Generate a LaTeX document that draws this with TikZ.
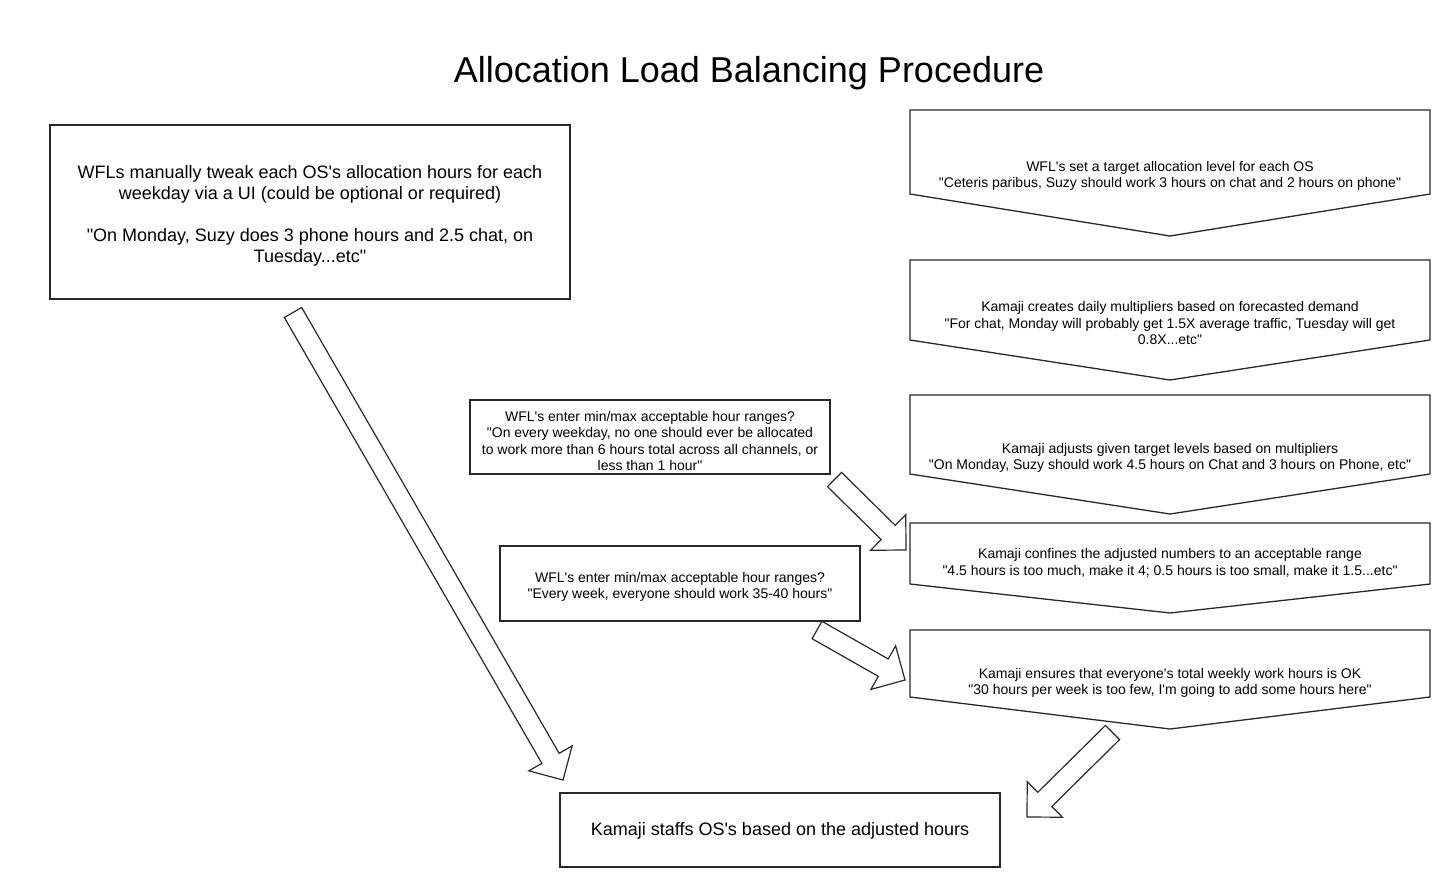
\documentclass[tikz,border=0pt]{standalone}
\usepackage{fontspec}
\setmainfont{Liberation Sans}[Ligatures=TeXOff]
\usetikzlibrary{calc}
\definecolor{lc}{RGB}{40,40,40}
\tikzset{
  shp/.style={draw=lc, line width=1.3pt, line join=miter, fill=white},
  blk/.style={draw=lc, line width=1.2pt, line join=miter, fill=white},
  small/.style={align=center, font=\fontsize{14}{16.4}\selectfont, inner sep=0pt, yshift=-2pt},
  big/.style={align=center, font=\fontsize{18}{21}\selectfont, inner sep=0pt, yshift=-3pt},
}
\newcommand{\blockarrow}[2]{%
  \coordinate (#1h) at ($(#2)!25pt!(#1)$);
  \draw[blk] ($(#1)!10pt!90:(#2)$) -- ($(#1h)!10pt!-90:(#1)$) -- ($(#1h)!25pt!-90:(#1)$)
    -- (#2) -- ($(#1h)!25pt!90:(#1)$) -- ($(#1h)!10pt!90:(#1)$) -- ($(#1)!10pt!-90:(#2)$) -- cycle;
}
\begin{document}
\begin{tikzpicture}[x=1pt,y=-1pt]
\useasboundingbox[fill=white] (0,0) rectangle (1450,887);

% title
\node[font=\fontsize{36}{40}\selectfont, inner sep=0pt] (title) at (749,73) {Allocation Load Balancing Procedure};

% left boxes
\draw[shp] (50,125) rectangle (570,299);
\node[big] (manual) at (310,213) {WFLs manually tweak each OS's allocation hours for each\\weekday via a UI (could be optional or required)\\[21pt]"On Monday, Suzy does 3 phone hours and 2.5 chat, on\\Tuesday...etc"};

\draw[shp] (470,400) rectangle (830,474);
\node[small] (range1) at (650,439) {WFL's enter min/max acceptable hour ranges?\\"On every weekday, no one should ever be allocated\\to work more than 6 hours total across all channels, or\\less than 1 hour"};

\draw[shp] (500,546) rectangle (860,621);
\node[small] (range2) at (680,585) {WFL's enter min/max acceptable hour ranges?\\"Every week, everyone should work 35-40 hours"};

\draw[shp] (560,793) rectangle (1000,867);
\node[big] (staff) at (780,828) {Kamaji staffs OS's based on the adjusted hours};

% pentagons
\draw[shp] (910,110) -- (1430,110) -- (1430,194) -- (1170,236) -- (910,194) -- cycle;
\node[small] (p1) at (1170,174) {WFL's set a target allocation level for each OS\\"Ceteris paribus, Suzy should work 3 hours on chat and 2 hours on phone"};

\draw[shp] (910,260) -- (1430,260) -- (1430,340) -- (1170,380) -- (910,340) -- cycle;
\node[small] (p2) at (1170,321) {Kamaji creates daily multipliers based on forecasted demand\\"For chat, Monday will probably get 1.5X average traffic, Tuesday will get\\0.8X...etc"};

\draw[shp] (910,395) -- (1430,395) -- (1430,474) -- (1170,514) -- (910,474) -- cycle;
\node[small] (p3) at (1170,456) {Kamaji adjusts given target levels based on multipliers\\"On Monday, Suzy should work 4.5 hours on Chat and 3 hours on Phone, etc"};

\draw[shp] (910,523) -- (1430,523) -- (1430,584) -- (1170,613) -- (910,584) -- cycle;
\node[small] (p4) at (1170,561) {Kamaji confines the adjusted numbers to an acceptable range\\"4.5 hours is too much, make it 4; 0.5 hours is too small, make it 1.5...etc"};

\draw[shp] (910,630) -- (1430,630) -- (1430,697) -- (1170,729) -- (910,697) -- cycle;
\node[small] (p5) at (1170,681) {Kamaji ensures that everyone's total weekly work hours is OK\\"30 hours per week is too few, I'm going to add some hours here"};

% block arrows
\coordinate (a1) at (293,312.5);  \coordinate (a1tip) at (563,780);
\coordinate (a2) at (834.5,479.5); \coordinate (a2tip) at (906,550);
\coordinate (a3) at (817,630);    \coordinate (a3tip) at (905,680);
\coordinate (a4) at (1112.5,732.5); \coordinate (a4tip) at (1027,817);
\blockarrow{a1}{a1tip}
\blockarrow{a2}{a2tip}
\blockarrow{a3}{a3tip}
\blockarrow{a4}{a4tip}
\end{tikzpicture}
\end{document}
